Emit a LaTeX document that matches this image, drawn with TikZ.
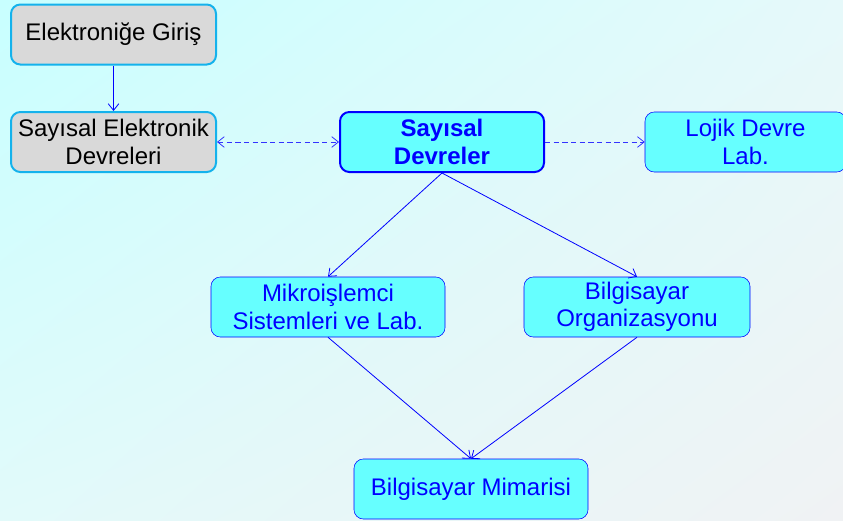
\documentclass[tikz,border=0pt]{standalone}
\usepackage{fontspec}
\setmainfont{Liberation Sans}
\usetikzlibrary{arrows.meta,shadings}
\definecolor{boxcyan}{RGB}{102,255,255}
\definecolor{boxgray}{RGB}{217,217,217}
\definecolor{edgecyan}{RGB}{20,178,236}
\definecolor{linkblue}{RGB}{0,0,255}
\definecolor{bgul}{RGB}{200,255,255}
\definecolor{bgur}{RGB}{230,249,250}
\definecolor{bgll}{RGB}{226,250,250}
\definecolor{bglr}{RGB}{240,242,244}
\begin{document}
\begin{tikzpicture}[x=0.75pt,y=-0.75pt,>={Straight Barb[length=5pt,width=8pt]},
	course/.style={rectangle,rounded corners=7pt,draw=linkblue,fill=boxcyan,text=linkblue,
		align=center,minimum height=45pt,inner sep=0pt,font=\fontsize{18}{20.5}\selectfont},
	intro/.style={course,draw=edgecyan,line width=1.5pt,fill=boxgray,text=black},
	link/.style={draw=linkblue,line width=0.6pt,->},
	soft/.style={link,draw=linkblue!80,dash pattern=on 4pt off 2.5pt}]
	\useasboundingbox (0,0) rectangle (843,521);
	\clip (0,0) rectangle (843,521);
	% arka plan
	\shade[upper left=bgul,upper right=bgur,lower left=bgll,lower right=bglr]
		(0,0) rectangle (843,521);
	% dersler
	\node [intro,minimum width=153.75pt] (giris) at (113.5,34.5) {Elektroniğe Giriş};
	\node [intro,minimum width=153.75pt] (elek) at (113.5,142) {Sayısal Elektronik\\Devreleri};
	\node [course,minimum width=153pt,line width=1.5pt,font=\fontsize{18}{20.5}\selectfont\bfseries] (sayisal) at (442,142) {Sayısal\\Devreler};
	\node [course,minimum width=150.75pt] (lojik) at (745.5,142) {Lojik Devre\\Lab.};
	\node [course,minimum width=175.5pt] (mikro) at (328,307) {Mikroişlemci\\Sistemleri ve Lab.};
	\node [course,minimum width=169.5pt] (organ) at (637,307) {Bilgisayar\\Organizasyonu};
	\node [course,minimum width=175.5pt] (mimari) at (471,489) {Bilgisayar Mimarisi};
	% bağlantılar
	\draw [link] (giris) -- (elek);
	\draw [soft,<->] (elek) -- (sayisal);
	\draw [soft] (sayisal) -- (lojik);
	\draw [link] (sayisal.south) -- (mikro.north);
	\draw [link] (sayisal.south) -- (organ.north);
	\draw [link] (mikro.south) -- (mimari.north);
	\draw [link] (organ.south) -- (mimari.north);
\end{tikzpicture}
\end{document}
